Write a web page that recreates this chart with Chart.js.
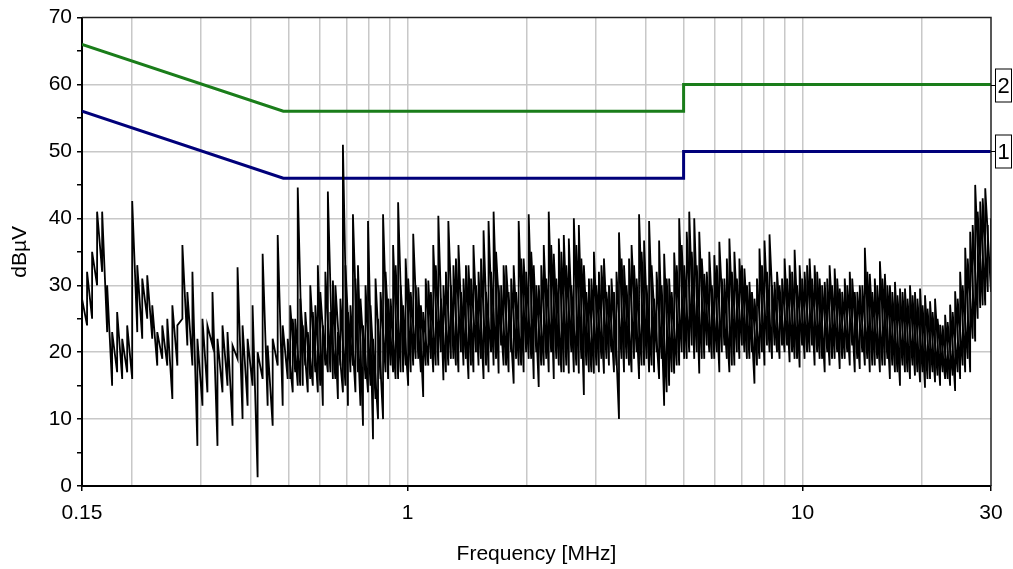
<!DOCTYPE html>
<html>
<head>
<meta charset="utf-8">
<script src="https://cdn.jsdelivr.net/npm/chart.js@4.4.0/dist/chart.umd.min.js"></script>
<style>
  html, body { margin: 0; padding: 0; background: #fff; }
</style>
</head>
<body>
<canvas id="canvas" width="1013" height="569"></canvas>
<script>
// limit lines (QP = 2, AV = 1)
const limitFreq = [0.15, 0.485, 5, 5, 30];
const qpLimit = [66, 56, 56, 60, 60];
const avLimit = [56, 46, 46, 50, 50];
const limitNames = ['2', '1'];

// axis ticks
const xTickValues = [0.15, 1, 10, 30];
const xTickLabels = ['0.15', '1', '10', '30'];
const xGridFreq = [0.15, 0.2, 0.3, 0.4, 0.5, 0.6, 0.7, 0.8, 0.9, 1, 2, 3, 4, 5, 6, 7, 8, 9, 10, 20, 30];
const yTickLabels = [0, 10, 20, 30, 40, 50, 60, 70];

// measured trace, min / max per frequency column (MHz, dBuV)
const traceFreq = [
  0.150, 0.1545, 0.1591, 0.1638, 0.1687, 0.1737, 0.1788, 0.1841, 0.1896, 0.1952,
  0.2010, 0.2070, 0.2131, 0.2194, 0.2259, 0.2326, 0.2395, 0.2466, 0.2540, 0.2615,
  0.2693, 0.2772, 0.2855, 0.2939, 0.3027, 0.3116, 0.3209, 0.3304, 0.3402, 0.3503,
  0.3607, 0.3714, 0.3824, 0.3938, 0.4054, 0.4175, 0.4299, 0.4426, 0.4558, 0.4693,
  0.4832, 0.4975, 0.5123, 0.5275, 0.5432, 0.5593, 0.5759, 0.5930, 0.6106, 0.6287,
  0.6474, 0.6666, 0.6864, 0.7068, 0.7277, 0.7493, 0.7716, 0.7945, 0.8180, 0.8423,
  0.8673, 0.8931, 0.9196, 0.9469, 0.9750, 1.004,
  1.034, 1.065, 1.096, 1.129, 1.162, 1.197, 1.233, 1.269, 1.307, 1.346,
  1.386, 1.427, 1.469, 1.513, 1.558, 1.604, 1.652, 1.701, 1.751, 1.803,
  1.857, 1.912, 1.968, 2.027, 2.087, 2.149, 2.213, 2.278,
  2.346, 2.416, 2.487, 2.561, 2.637, 2.715, 2.796, 2.879, 2.964, 3.052,
  3.143, 3.236, 3.332, 3.431, 3.533, 3.638, 3.746, 3.857, 3.971, 4.089,
  4.210, 4.335, 4.464, 4.596, 4.733, 4.873, 5.018, 5.167, 5.320, 5.478,
  5.640, 5.808, 5.980, 6.158, 6.340, 6.529, 6.722, 6.922, 7.127, 7.339,
  7.557, 7.781, 8.012, 8.250, 8.495, 8.747,
  9.007, 9.274, 9.549, 9.833, 10.12, 10.42, 10.73, 11.05, 11.38, 11.71,
  12.06, 12.42, 12.79, 13.17, 13.56, 13.96, 14.38, 14.80, 15.24, 15.70,
  16.16, 16.64, 17.14, 17.65, 18.17, 18.71, 19.26, 19.84, 20.42, 21.03,
  21.65, 22.30, 22.96, 23.64, 24.34, 25.06, 25.81, 26.57, 27.36, 28.17,
  29.01, 30.0
];
const traceLow = [
  19, 24, 25, 30, 32, 23, 15, 17, 16, 17,
  16, 23, 22, 25, 22, 18, 19, 18, 13, 18,
  25, 21, 18, 6, 12, 14, 21, 6, 14, 15,
  9, 19, 10, 12, 15, 1.3, 16, 12, 9, 18,
  12, 16, 14, 15, 15, 14, 15, 14, 12, 17,
  16, 13, 14, 12, 18, 17, 9, 14, 7, 10,
  10, 16, 17, 16, 17, 15,
  18, 19, 13.3, 18, 17, 18, 15.8, 18, 19, 17,
  18, 16, 17, 18, 16, 17, 18, 16.8, 18, 17,
  15.3, 18, 17, 19, 16, 14.8, 18, 17,
  16, 18, 17, 16.8, 17, 16.8, 13.6, 17, 16.8, 17,
  16.8, 18, 17, 10, 17, 18, 19, 16, 18, 17,
  17, 16, 12, 15, 16.8, 18, 19, 20, 19, 16.8,
  19, 20, 19, 17, 21, 17, 18, 19, 20, 19,
  15.3, 19, 18, 20, 21, 19,
  20, 18.5, 19, 17.7, 19, 20, 18, 19, 17, 18,
  19, 17.5, 19, 18, 17, 17.5, 18, 17, 18, 17,
  18, 16, 17, 15, 17, 16, 16.5, 15.5, 14.7, 16,
  15.5, 15, 16, 15, 14.2, 16, 17, 17, 21.6, 26.6,
  27, 29
];
const traceHigh = [
  28, 32, 35, 41, 41, 30, 23, 26, 22, 24,
  42.6, 33, 31, 31.5, 27, 23, 24, 25, 27, 24,
  36, 29, 32, 22, 25, 24, 29, 22, 24, 23,
  21, 32.7, 24, 22, 27, 20, 34.7, 21, 22, 37.5,
  24, 22, 25, 44.6, 24, 23, 26, 33, 24, 44,
  30.7, 23, 51, 26, 40.6, 33, 24, 39.6, 22, 25,
  40.6, 28, 36, 42.4, 27, 31,
  37.7, 29.7, 26, 30.7, 36, 40.4, 30, 39.6, 33, 36,
  31, 33, 36, 32, 38.2, 39.6, 41, 30, 33, 29,
  33, 39.6, 34, 40.6, 33, 30, 36, 41,
  34.7, 37, 37.5, 37, 40, 39, 33, 31, 35, 32,
  34, 30, 29, 37.9, 33, 34, 33, 40.6, 36.7, 39.6,
  28, 36.7, 34.7, 31, 34.9, 40, 33, 41, 40, 38,
  31.7, 35, 34.5, 36.5, 31, 37, 35, 34, 32.5, 30.5,
  28, 35.5, 36.7, 37.6, 30.5, 30,
  34, 33, 35.3, 33, 32, 34, 33, 31, 30.5, 33,
  32.5, 29.5, 31, 32, 29, 30, 35.6, 31.7, 31, 33.6,
  31.7, 30, 30.5, 29.5, 29.5, 30, 29, 29.5, 28.5, 27.6,
  28, 24.1, 25.6, 27.1, 29.1, 32, 35.6, 38, 45, 42.5,
  44.5, 40
];

// in-between columns of the same trace, 0.5 - 30 MHz (denser part)
const traceFreq2 = [
  0.5048, 0.5198, 0.5353, 0.5512, 0.5675, 0.5844, 0.6017, 0.6196, 0.6380, 0.6569,
  0.6764, 0.6965, 0.7172, 0.7384, 0.7603, 0.7830, 0.8062, 0.8300, 0.8547, 0.8801,
  0.9062, 0.9331, 0.9608, 0.9893, 1.019,
  1.049, 1.081, 1.112, 1.146, 1.179, 1.215, 1.251, 1.288, 1.326, 1.366,
  1.406, 1.448, 1.491, 1.535, 1.581, 1.628, 1.676, 1.726, 1.777, 1.830,
  1.884, 1.940, 1.997, 2.057, 2.118, 2.181, 2.246, 2.311,
  2.381, 2.452, 2.524, 2.599, 2.676, 2.755, 2.837, 2.921, 3.008, 3.097,
  3.189, 3.284, 3.381, 3.482, 3.585, 3.692, 3.801, 3.914, 4.029, 4.149,
  4.272, 4.399, 4.530, 4.664, 4.803, 4.945, 5.092, 5.243, 5.398, 5.559,
  5.723, 5.893, 6.068, 6.249, 6.433, 6.625, 6.821, 7.024, 7.232, 7.447,
  7.668, 7.895, 8.130, 8.371, 8.620, 8.876,
  9.139, 9.410, 9.689, 9.978, 10.27, 10.57, 10.89, 11.21, 11.55, 11.88,
  12.24, 12.60, 12.98, 13.36, 13.76, 14.17, 14.59, 15.02, 15.46, 15.93,
  16.40, 16.88, 17.39, 17.91, 18.44, 18.99, 19.54, 20.13, 20.72, 21.34,
  21.97, 22.63, 23.30, 23.99, 24.70, 25.43, 26.19, 26.96, 27.76, 28.58,
  29.44
];
const traceLow2 = [
  16, 17, 15, 18, 16, 17, 15, 18, 17, 16,
  18, 15, 17, 14, 12, 16, 15, 13, 16, 17,
  18, 16, 17, 18, 17,
  19, 17, 18, 19, 18, 20, 17, 19, 18, 20,
  19, 18, 20, 19, 18, 20, 19, 21, 18, 20,
  19, 18, 20, 19, 20, 18, 19, 20,
  19, 17, 18, 20, 18, 19, 18, 17, 18, 19,
  19, 20, 18, 19, 19, 17, 20, 18, 19, 18,
  20, 19, 14, 17, 18, 20, 19, 21, 20, 19,
  21, 19, 20, 20, 19, 18, 20, 21, 19, 20,
  18, 20, 21, 19, 20, 21,
  21, 20, 19, 21, 20, 21, 20, 19, 20, 19,
  20, 19, 20, 21, 19, 20, 19, 18, 19, 18,
  19, 18, 17, 18, 17, 18, 17, 17, 16, 17,
  16.5, 17, 16, 16.5, 17, 18, 19, 22, 25, 27,
  29
];
const traceHigh2 = [
  27, 25, 28, 26, 30, 27, 29, 32, 26, 30,
  28, 33, 27, 31, 28, 30, 27, 31, 29, 32,
  28, 33, 30, 34, 29,
  30, 27, 31, 29, 33, 28, 32, 30, 34, 29,
  33, 31, 30, 34, 29, 32, 35, 30, 33, 31,
  29, 34, 32, 35, 30, 33, 31, 36,
  31, 35, 33, 30, 36, 34, 29, 31, 30, 33,
  29, 31, 32, 34, 30, 36, 31, 35, 30, 33,
  32, 30, 31, 29, 33, 36, 38, 35, 33, 34,
  32, 30, 33, 31, 34, 32, 31, 33, 30, 29,
  31, 33, 32, 30, 32, 31,
  31, 32, 30, 31, 33, 31, 32, 30, 31, 30,
  31, 29, 30, 31, 29, 30, 32, 29, 30, 31,
  30, 29, 28.5, 29, 28, 28.5, 28, 27, 26.5, 26,
  25, 24, 24.5, 26, 28, 30, 34, 39, 41, 43,
  39
];

const fontFamily = '"Liberation Sans", Arial, sans-serif';

// build the point lists: each column goes low -> high
function columnPoints(freq, low, high) {
  let pts = [];
  for (let i = 0; i < freq.length; i++) {
    pts.push({ x: freq[i], y: low[i] });
    pts.push({ x: freq[i], y: high[i] });
  }
  return pts;
}
let tracePoints = columnPoints(traceFreq, traceLow, traceHigh);
let tracePoints2 = columnPoints(traceFreq2, traceLow2, traceHigh2);
let qpPoints = limitFreq.map((f, i) => ({ x: f, y: qpLimit[i] }));
let avPoints = limitFreq.map((f, i) => ({ x: f, y: avLimit[i] }));

// frame on top/right and the limit number boxes
const framePlugin = {
  id: 'frame',
  afterDraw(chart) {
    const ctx = chart.ctx;
    const a = chart.chartArea;
    const yScale = chart.scales.y;
    ctx.save();
    ctx.strokeStyle = '#222';
    ctx.lineWidth = 1.5;
    ctx.beginPath();
    ctx.moveTo(a.left, a.top);
    ctx.lineTo(a.right, a.top);
    ctx.lineTo(a.right, a.bottom);
    ctx.stroke();

    const ends = [qpLimit[qpLimit.length - 1], avLimit[avLimit.length - 1]];
    ctx.font = '22px ' + fontFamily;
    ctx.textAlign = 'center';
    ctx.textBaseline = 'middle';
    ends.forEach((v, i) => {
      const y = Math.round(yScale.getPixelForValue(v)) + 0.5;
      ctx.lineWidth = 1;
      ctx.strokeStyle = '#000';
      ctx.beginPath();
      ctx.moveTo(a.right, y);
      ctx.lineTo(a.right + 4, y);
      ctx.stroke();
      ctx.fillStyle = '#fff';
      ctx.fillRect(a.right + 4.5, y - 16.5, 16, 33);
      ctx.strokeRect(a.right + 4.5, y - 16.5, 16, 33);
      ctx.fillStyle = '#000';
      ctx.fillText(limitNames[i], a.right + 12.5, y + 1);
    });
    ctx.restore();
  }
};

new Chart(document.getElementById('canvas'), {
  type: 'scatter',
  data: {
    datasets: [
      {
        label: 'trace',
        data: tracePoints,
        showLine: true,
        borderColor: '#000',
        borderWidth: 1.8,
        pointRadius: 0,
        order: 0
      },
      {
        label: 'trace fill-in',
        data: tracePoints2,
        showLine: true,
        borderColor: '#000',
        borderWidth: 1.8,
        pointRadius: 0,
        order: 0
      },
      {
        label: 'QP limit',
        data: qpPoints,
        showLine: true,
        borderColor: '#1a7d1a',
        borderWidth: 3,
        pointRadius: 0,
        order: 1
      },
      {
        label: 'AV limit',
        data: avPoints,
        showLine: true,
        borderColor: '#00007a',
        borderWidth: 3,
        pointRadius: 0,
        order: 1
      }
    ]
  },
  options: {
    responsive: false,
    animation: false,
    layout: { padding: { top: 16, right: 22, bottom: 0, left: 0 } },
    plugins: {
      legend: { display: false },
      tooltip: { enabled: false }
    },
    scales: {
      x: {
        type: 'logarithmic',
        min: 0.15,
        max: 30,
        afterBuildTicks: function(scale) {
          scale.ticks = xGridFreq.map(v => ({ value: v }));
        },
        afterFit: function(scale) { scale.height = 83; },
        ticks: {
          autoSkip: false,
          maxRotation: 0,
          padding: 10,
          color: '#000',
          font: { family: fontFamily, size: 21 },
          callback: function(value) {
            const i = xTickValues.indexOf(value);
            return i >= 0 ? xTickLabels[i] : '';
          }
        },
        grid: {
          color: ctx => (ctx.tick && (ctx.tick.value === 0.15 || ctx.tick.value === 30)) ? 'rgba(0,0,0,0)' : '#c8c8c8',
          lineWidth: 1.5,
          tickLength: 5,
          tickWidth: 1.5,
          tickColor: ctx => (ctx.tick && xTickValues.indexOf(ctx.tick.value) >= 0) ? '#000' : 'rgba(0,0,0,0)'
        },
        border: { color: '#000', width: 2 },
        title: {
          display: true,
          text: 'Frequency [MHz]',
          color: '#000',
          font: { family: fontFamily, size: 21 },
          padding: { top: 0, bottom: 2 }
        }
      },
      y: {
        min: 0,
        max: 70,
        afterFit: function(scale) { scale.width = 82; },
        ticks: {
          stepSize: 5,
          padding: 5,
          color: '#000',
          font: { family: fontFamily, size: 21 },
          callback: function(value) {
            return yTickLabels.indexOf(value) >= 0 ? String(value) : '';
          }
        },
        grid: {
          color: ctx => (ctx.tick && ctx.tick.value % 10 === 0 && ctx.tick.value > 0 && ctx.tick.value < 70) ? '#c8c8c8' : 'rgba(0,0,0,0)',
          lineWidth: 1.5,
          tickLength: 5,
          tickWidth: 1.5,
          tickColor: '#000'
        },
        border: { color: '#000', width: 2 },
        title: {
          display: true,
          text: 'dBµV',
          color: '#000',
          font: { family: fontFamily, size: 21 },
          padding: { top: 8, bottom: 0 }
        }
      }
    }
  },
  plugins: [framePlugin]
});
</script>
</body>
</html>
